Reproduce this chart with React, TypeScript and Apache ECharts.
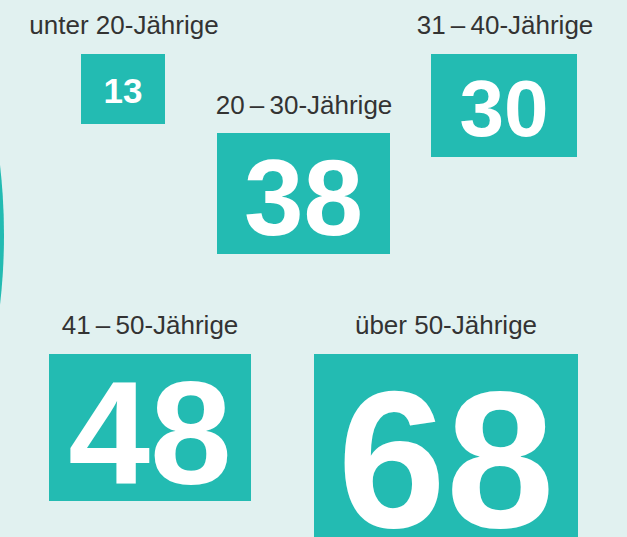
import React, { useEffect, useRef } from "react";
import * as echarts from "echarts";

// Data
const categories = [
  "unter 20-Jährige",
  "20\u2009–\u200930-Jährige",
  "31\u2009–\u200940-Jährige",
  "41\u2009–\u200950-Jährige",
  "über 50-Jährige",
];
const values = [13, 38, 30, 48, 68];

// Layout (positions / sizes in pixel units of the hidden axes)
const boxCenterX = [123, 303.5, 504, 150, 446];
const boxCenterY = [89, 193.5, 105.5, 427.5, 451];
const boxWidth = [84, 173, 146, 202, 264];
const boxHeight = [70, 121, 103, 147, 194];
const numberFont = [35, 107, 80, 147, 195];
const labelX = [124, 304, 505, 150, 446];
const labelY = [25, 104.5, 25, 324.5, 324.5];

const TEAL = "#23bbb2";
const BG = "#e1f1f0";

export default function App() {
  const ref = useRef<HTMLDivElement>(null);
  useEffect(() => {
    if (!ref.current) return;
    const chart = echarts.init(ref.current, null, { renderer: "svg" });
    const seriesData = values.map((v, i) => [boxCenterX[i], boxCenterY[i], v, i]);
    chart.setOption({
      animation: false,
      backgroundColor: BG,
      grid: { left: 0, right: 0, top: 0, bottom: 0 },
      xAxis: { type: "value", min: 0, max: 627, show: false },
      yAxis: { type: "value", min: 0, max: 537, inverse: true, show: false },
      graphic: [
        {
          type: "circle",
          shape: { cx: -610, cy: 235, r: 614 },
          style: { fill: TEAL },
          z: 1,
        },
      ],
      series: [
        {
          type: "custom",
          data: seriesData,
          renderItem: (params: any, api: any) => {
            const i = api.value(3);
            const c = api.coord([api.value(0), api.value(1)]);
            const s = api.size([boxWidth[i], boxHeight[i]]);
            const lp = api.coord([labelX[i], labelY[i]]);
            const fs = numberFont[i];
            return {
              type: "group",
              children: [
                {
                  type: "rect",
                  shape: { x: c[0] - s[0] / 2, y: c[1] - s[1] / 2, width: s[0], height: s[1] },
                  style: { fill: TEAL },
                },
                {
                  type: "text",
                  x: c[0],
                  y: c[1] + fs * 0.04,
                  style: {
                    text: String(api.value(2)),
                    fill: "#ffffff",
                    font: `bold ${fs}px "Liberation Sans", Arial, sans-serif`,
                    lineHeight: Math.round(fs * 0.75),
                    align: "center",
                    verticalAlign: "middle",
                  },
                },
                {
                  type: "text",
                  x: lp[0],
                  y: lp[1],
                  style: {
                    text: categories[i],
                    fill: "#333333",
                    font: `26px "Liberation Sans", Arial, sans-serif`,
                    align: "center",
                    verticalAlign: "middle",
                  },
                },
              ],
            };
          },
        },
      ],
    });
    return () => chart.dispose();
  }, []);
  return (
    <div
      ref={ref}
      style={{ position: "fixed", left: 0, top: 0, width: 627, height: 537 }}
    />
  );
}
